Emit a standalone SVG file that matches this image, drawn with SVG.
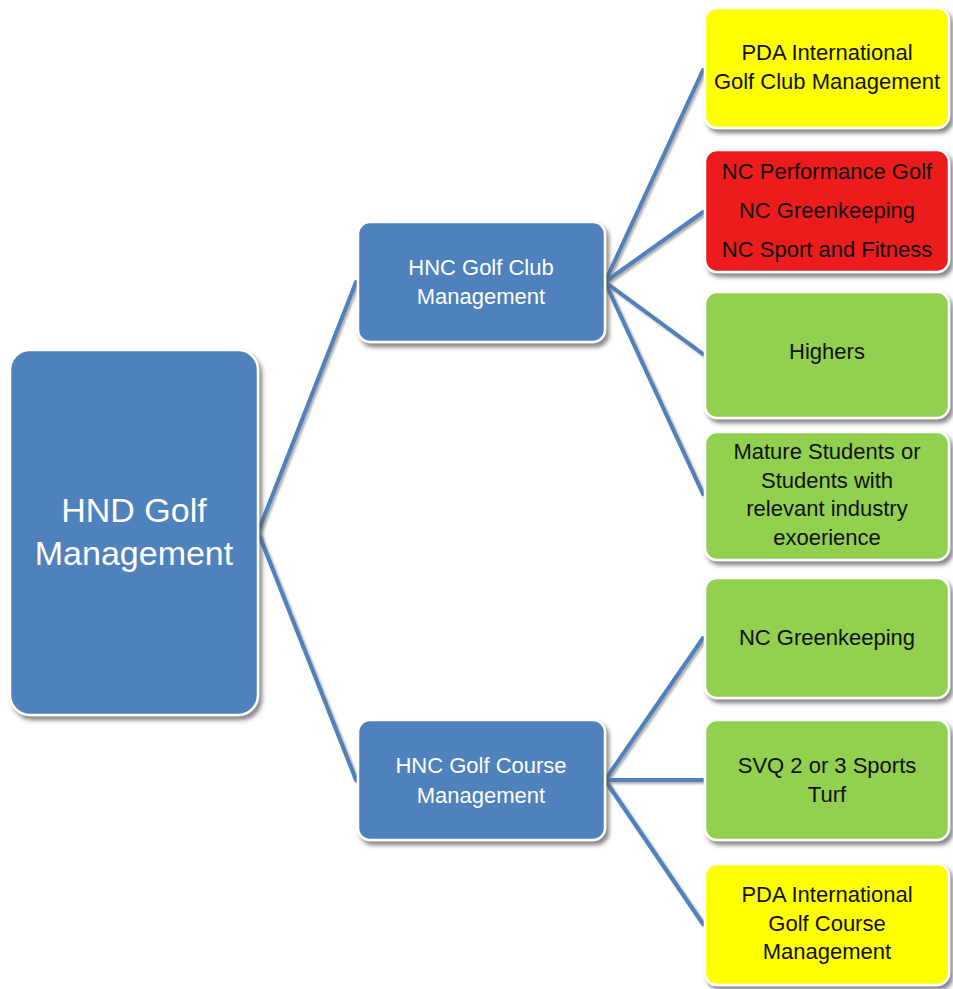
<svg xmlns="http://www.w3.org/2000/svg" width="953" height="989" viewBox="0 0 953 989">
<defs>
<filter id="sh" x="-10%" y="-10%" width="125%" height="125%">
<feDropShadow dx="3" dy="4" stdDeviation="2" flood-color="#555" flood-opacity="0.7"/>
</filter>
<filter id="lsh" x="-10%" y="-10%" width="125%" height="125%">
<feDropShadow dx="2" dy="2" stdDeviation="1" flood-color="#777" flood-opacity="0.6"/>
</filter>
<style>
.box{stroke:#ffffff;stroke-width:2.5;filter:url(#sh)}
.blue{fill:#4F81BD}
.yel{fill:#FFFF00}
.red{fill:#EC1C1C}
.grn{fill:#92D050}
.conn line{stroke:#4F81BD;stroke-width:4;stroke-linecap:round}
text{font-family:"Liberation Sans","Lato",sans-serif;text-anchor:middle}
.w{fill:#ffffff}
.k{fill:#111111}
.big{font-size:34px}
.mid{font-size:22px}
.sm{font-size:22px}
</style>
</defs>
<rect width="953" height="989" fill="#ffffff"/>
<g id="connectors" class="conn" filter="url(#lsh)">
<line x1="258" y1="532" x2="356" y2="282"/>
<line x1="258" y1="532" x2="356" y2="780"/>
<line x1="605" y1="282" x2="703" y2="70"/>
<line x1="605" y1="282" x2="703" y2="212"/>
<line x1="605" y1="282" x2="703" y2="354"/>
<line x1="605" y1="282" x2="703" y2="494"/>
<line x1="605" y1="780" x2="703" y2="638"/>
<line x1="605" y1="780" x2="703" y2="780"/>
<line x1="605" y1="780" x2="703" y2="924"/>
</g>
<g id="root">
<rect class="box blue" x="10" y="350" width="248" height="365" rx="20"/>
<text class="w big" x="134" y="522">HND Golf</text>
<text class="w big" x="134" y="565">Management</text>
</g>
<g id="hnc-club">
<rect class="box blue" x="358" y="222" width="247" height="120" rx="12"/>
<text class="w mid" x="481" y="275">HNC Golf Club</text>
<text class="w mid" x="481" y="304">Management</text>
</g>
<g id="hnc-course">
<rect class="box blue" x="358" y="720" width="247" height="120" rx="12"/>
<text class="w mid" x="481" y="773">HNC Golf Course</text>
<text class="w mid" x="481" y="803">Management</text>
</g>
<g id="pda-club">
<rect class="box yel" x="705" y="8" width="244" height="120" rx="12"/>
<text class="k sm" x="827" y="60">PDA International</text>
<text class="k sm" x="827" y="89">Golf Club Management</text>
</g>
<g id="nc-red">
<rect class="box red" x="705" y="150" width="244" height="122" rx="12"/>
<text class="k sm" x="827" y="179">NC Performance Golf</text>
<text class="k sm" x="827" y="218">NC Greenkeeping</text>
<text class="k sm" x="827" y="257">NC Sport and Fitness</text>
</g>
<g id="highers">
<rect class="box grn" x="705" y="292" width="244" height="126" rx="12"/>
<text class="k sm" x="827" y="359">Highers</text>
</g>
<g id="mature">
<rect class="box grn" x="705" y="432" width="244" height="128" rx="12"/>
<text class="k sm" x="827" y="459">Mature Students or</text>
<text class="k sm" x="827" y="488">Students with</text>
<text class="k sm" x="827" y="516">relevant industry</text>
<text class="k sm" x="827" y="545">exoerience</text>
</g>
<g id="nc-greenkeeping">
<rect class="box grn" x="705" y="578" width="244" height="120" rx="12"/>
<text class="k sm" x="827" y="645">NC Greenkeeping</text>
</g>
<g id="svq">
<rect class="box grn" x="705" y="720" width="244" height="120" rx="12"/>
<text class="k sm" x="827" y="773">SVQ 2 or 3 Sports</text>
<text class="k sm" x="827" y="802">Turf</text>
</g>
<g id="pda-course">
<rect class="box yel" x="705" y="864" width="244" height="121" rx="12"/>
<text class="k sm" x="827" y="902">PDA International</text>
<text class="k sm" x="827" y="931">Golf Course</text>
<text class="k sm" x="827" y="959">Management</text>
</g>
</svg>
